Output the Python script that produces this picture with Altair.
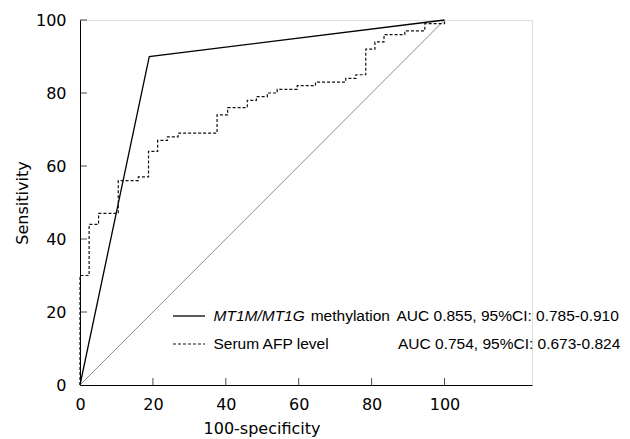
import altair as alt
import pandas as pd

# ---- data ----
meth_x = [0, 19, 100]
meth_y = [0, 90, 100]
afp_x = [0, 0, 2.5, 5.1, 10.5, 16.0, 18.8, 21.3, 24.0, 26.9, 37.6, 40.5, 45.9,
         48.4, 51.4, 54.1, 59.6, 64.6, 72.9, 75.7, 78.4, 80.9, 83.4, 89.1, 94.6, 100]
afp_y = [0, 30, 44, 47, 56, 57, 64, 67, 68, 69, 74, 76, 78,
         79, 80, 81, 82, 83, 84, 85, 92, 94, 96, 97, 99, 100]
diag_xy = [0, 100]
tick_values = [0, 20, 40, 60, 80, 100]

name_meth_italic = "MT1M/MT1G"
name_meth_rest = "methylation"
auc_meth = "AUC 0.855, 95%CI: 0.785-0.910"
name_afp = "Serum AFP level"
auc_afp = "AUC 0.754, 95%CI: 0.673-0.824"

TICK_FONT = "DejaVu Sans"
LEG_FONT = "Liberation Sans"

xs = alt.Scale(domain=[0, 124], nice=False, zero=False)
ys = alt.Scale(domain=[0, 100], nice=False)

x_axis = alt.Axis(values=tick_values, ticks=False, grid=False, domainColor="black", labelFlush=False,
                  labelFont=TICK_FONT, labelFontSize=16, labelColor="black", labelPadding=11,
                  title="100-specificity", titleFont=TICK_FONT, titleFontSize=16,
                  titleFontWeight="normal", titleColor="black",
                  titleX=181.5, titleY=35, titleBaseline="top", titleAlign="center")
y_axis = alt.Axis(values=tick_values, ticks=False, grid=False, domainColor="black", labelFlush=False,
                  labelFont=TICK_FONT, labelFontSize=16, labelColor="black", labelPadding=14,
                  title="Sensitivity", titleFont=TICK_FONT, titleFontSize=16,
                  titleFontWeight="normal", titleColor="black",
                  titleX=-58, titleY=182.5, titleBaseline="middle", titleAlign="center", titleAngle=270)

diag = alt.Chart(pd.DataFrame({"x": diag_xy, "y": diag_xy})).mark_line(
    color="#8c8c8c", strokeWidth=1).encode(
    x=alt.X("x:Q", scale=xs, axis=x_axis), y=alt.Y("y:Q", scale=ys, axis=y_axis))

meth = alt.Chart(pd.DataFrame({"x": meth_x, "y": meth_y})).mark_line(
    color="black", strokeWidth=1.3).encode(x=alt.X("x:Q", scale=xs), y=alt.Y("y:Q", scale=ys))

afp = alt.Chart(pd.DataFrame({"x": afp_x, "y": afp_y, "o": list(range(len(afp_x)))})).mark_line(
    color="#111111", strokeWidth=1.2, strokeDash=[3, 2], interpolate="step-after").encode(
    x=alt.X("x:Q", scale=xs), y=alt.Y("y:Q", scale=ys), order="o:Q")

tdf = pd.DataFrame({"v": tick_values[1:]})
xticks = alt.Chart(tdf).mark_tick(orient="vertical", size=7, thickness=1, color="black",
                                  yOffset=-3.5).encode(
    x=alt.X("v:Q", scale=xs), y=alt.datum(0, scale=ys))
yticks = alt.Chart(tdf).mark_tick(orient="horizontal", size=7, thickness=1, color="black",
                                  xOffset=3.5).encode(
    y=alt.Y("v:Q", scale=ys), x=alt.datum(0, scale=xs))

one = pd.DataFrame({"k": [0]})
leg_line1 = alt.Chart(one).mark_rule(color="black", strokeWidth=1.3).encode(
    x=alt.value(93), x2=alt.value(125), y=alt.value(296))
leg_line2 = alt.Chart(one).mark_rule(color="#111111", strokeWidth=1.2, strokeDash=[3, 2]).encode(
    x=alt.value(93), x2=alt.value(125), y=alt.value(324))


def label(txt, px, py, italic=False):
    return alt.Chart(pd.DataFrame({"t": [txt]})).mark_text(
        font=LEG_FONT, fontSize=15.5, color="black", align="left", baseline="middle",
        fontStyle="italic" if italic else "normal").encode(
        text="t:N", x=alt.value(px), y=alt.value(py))


legend = (label(name_meth_italic, 133.5, 296, True) + label(name_meth_rest, 230.7, 296)
          + label(auc_meth, 316.5, 296) + label(name_afp, 133.5, 324) + label(auc_afp, 318, 324))

chart = alt.layer(diag, meth, afp, xticks, yticks, leg_line1, leg_line2, legend).properties(
    width=452, height=365,
    autosize=alt.AutoSizeParams(type="none"),
    padding={"left": 72, "top": 12, "right": 90, "bottom": 56},
).configure_view(stroke=None).configure(background="white")

chart.save("out.html", embed_options={"renderer": "svg", "actions": False})
